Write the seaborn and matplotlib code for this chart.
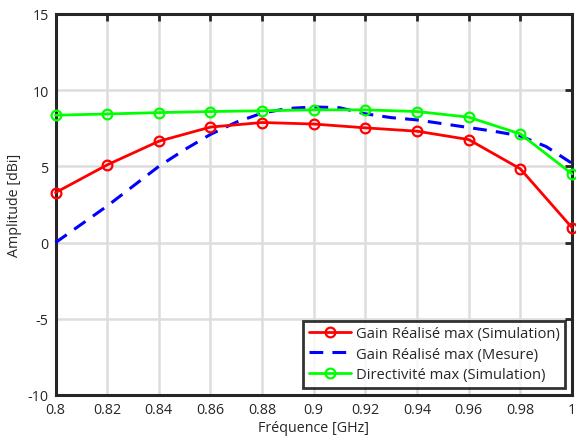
import matplotlib
matplotlib.use("Agg")
import matplotlib.pyplot as plt
import seaborn as sns
import pandas as pd

# Data
freq_sim = [0.80, 0.82, 0.84, 0.86, 0.88, 0.90, 0.92, 0.94, 0.96, 0.98, 1.00]
gain_sim = [3.28, 5.1, 6.65, 7.58, 7.88, 7.78, 7.53, 7.31, 6.76, 4.84, 0.98]
direct_sim = [8.36, 8.44, 8.53, 8.6, 8.65, 8.71, 8.71, 8.6, 8.23, 7.13, 4.51]

freq_meas = [0.80, 0.81, 0.82, 0.83, 0.84, 0.85, 0.86, 0.87, 0.88, 0.89, 0.90,
             0.91, 0.92, 0.93, 0.94, 0.95, 0.96, 0.97, 0.98, 0.99, 1.00]
gain_meas = [0.0, 1.2, 2.4, 3.7, 5.0, 6.1, 7.1, 7.9, 8.5, 8.8, 8.9,
             8.85, 8.45, 8.2, 8.05, 7.8, 7.55, 7.3, 7.0, 6.3, 5.2]

labels = ["Gain Réalisé max (Simulation)", "Gain Réalisé max (Mesure)", "Directivité max (Simulation)"]
xticks = [0.8, 0.82, 0.84, 0.86, 0.88, 0.9, 0.92, 0.94, 0.96, 0.98, 1.0]
xticklabels = ["0.8", "0.82", "0.84", "0.86", "0.88", "0.9", "0.92", "0.94", "0.96", "0.98", "1"]
yticks = [-10, -5, 0, 5, 10, 15]

sns.set_theme(style="white")
plt.rcParams['font.family'] = ['Open Sans', 'DejaVu Sans']
plt.rcParams['axes.unicode_minus'] = False

fig = plt.figure(figsize=(5.76, 4.39), dpi=100)
ax = fig.add_axes([55.5/576, 1 - 396/439, (572.0-55.5)/576, (396-15)/439])

df_sim = pd.DataFrame({"f": freq_sim, "g": gain_sim, "d": direct_sim})
df_meas = pd.DataFrame({"f": freq_meas, "g": gain_meas})

sns.lineplot(data=df_sim, x="f", y="g", ax=ax, color="#ff0000", lw=2, marker="o",
             markersize=7, markerfacecolor="none", markeredgecolor="#ff0000",
             markeredgewidth=1.6, label=labels[0], zorder=5, clip_on=False)
sns.lineplot(data=df_meas, x="f", y="g", ax=ax, color="#0000ff", lw=2.2,
             label=labels[1], zorder=4, clip_on=False)
ax.lines[-1].set_dashes((4.5, 3))
sns.lineplot(data=df_sim, x="f", y="d", ax=ax, color="#00ff00", lw=2, marker="o",
             markersize=7, markerfacecolor="none", markeredgecolor="#00ff00",
             markeredgewidth=1.6, label=labels[2], zorder=6, clip_on=False)

ax.set_xlim(0.8, 1.0)
ax.set_ylim(-10, 15)
ax.set_xticks(xticks)
ax.set_xticklabels(xticklabels)
ax.set_yticks(yticks)
ax.grid(True, color="#dddddd", lw=1.8)
ax.set_axisbelow(True)
for s in ax.spines.values():
    s.set_color("#262626")
    s.set_linewidth(2.2)
ax.tick_params(direction="in", length=5, width=2, color="#262626",
               top=True, right=True, labelsize=10.3, labelcolor="#262626", pad=5)
ax.set_xlabel("Fréquence [GHz]", fontsize=10.3, color="#262626", labelpad=2)
ax.set_ylabel("Amplitude [dBi]", fontsize=10.3, color="#262626", labelpad=4)

leg = ax.legend(loc="lower right", fontsize=10.6, frameon=True, fancybox=False,
                borderpad=0.35, labelspacing=0.4, handlelength=2.9, handletextpad=0.3,
                borderaxespad=0.5)
leg.get_frame().set_edgecolor("black")
leg.get_frame().set_linewidth(2)
for t in leg.get_texts():
    t.set_color("#262626")

fig.savefig("out.png", dpi=100)
